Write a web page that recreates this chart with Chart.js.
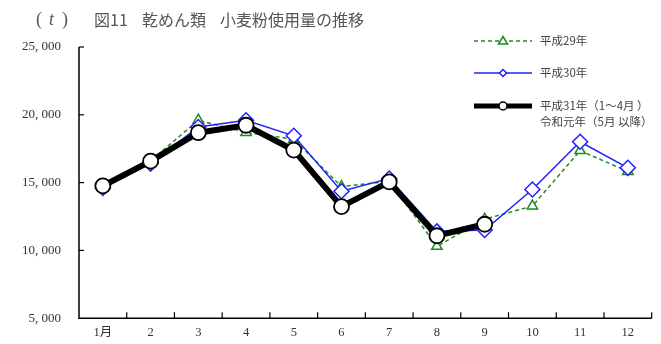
<!DOCTYPE html>
<html><head><meta charset="utf-8">
<script src="https://cdn.jsdelivr.net/npm/chart.js@4/dist/chart.umd.min.js"></script>
<style>html,body{margin:0;padding:0;background:#fff}#wrap{width:661px;height:344px;position:relative}</style>
</head><body><div id="wrap"><canvas id="c" width="661" height="344"></canvas></div>
<script>
const months = ['1月','2','3','4','5','6','7','8','9','10','11','12'];
const h29 = [14700,16600,19600,18700,18200,14700,15100,10300,12300,13270,17360,15820];
const h30 = [14600,16400,19100,19600,18450,14360,15300,11400,11500,14490,18010,16090];
const h31 = [14760,16580,18680,19230,17400,13230,15050,11080,11930,null,null,null];
const yTicks = [5000,10000,15000,20000,25000];
const seriesNames = ['平成29年','平成30年','平成31年（1～4月 ）','令和元年（5月 以降）'];

const FONT = '"Liberation Serif","Noto Sans CJK JP",serif';
const JFONT = '"Noto Sans CJK JP","Liberation Serif",serif';

const decor = {
  id:'decor',
  afterDraw(chart){
    const ctx = chart.ctx, x = chart.scales.x, y = chart.scales.y;
    const ca = chart.chartArea;
    ctx.save();
    ctx.strokeStyle = '#000'; ctx.lineWidth = 1.5;
    ctx.beginPath();
    ctx.moveTo(ca.left, ca.top); ctx.lineTo(ca.left, ca.bottom); ctx.lineTo(ca.right, ca.bottom);
    ctx.stroke();
    ctx.lineWidth = 1.2;
    yTicks.forEach(v=>{
      if (v===5000) return;
      const py = y.getPixelForValue(v);
      ctx.beginPath(); ctx.moveTo(ca.left, py); ctx.lineTo(ca.left+5, py); ctx.stroke();
    });
    const step = x.getPixelForValue(1)-x.getPixelForValue(0);
    for (let i=0;i<months.length;i++){
      const px = x.getPixelForValue(i) + step/2;
      ctx.beginPath(); ctx.moveTo(px, ca.bottom); ctx.lineTo(px, ca.bottom-6); ctx.stroke();
    }
    // title
    ctx.fillStyle = '#555'; ctx.textBaseline = 'middle';
    ctx.font = '18px ' + FONT;
    ctx.fillText('(', 36, 20);
    ctx.font = 'italic 18px ' + FONT;
    ctx.fillText('t', 49, 20);
    ctx.font = '18px ' + FONT;
    ctx.fillText(')', 62, 20);
    ctx.font = '16px ' + JFONT;
    ctx.fillText('図11', 94, 20);
    ctx.fillText('乾めん類', 142, 20);
    ctx.fillText('小麦粉使用量の推移', 220, 20);
    // legend
    const lx0 = 474, lx1 = 532, mx = 503, tx = 540;
    ctx.font = '11.5px ' + JFONT; ctx.fillStyle = '#444';
    ctx.strokeStyle = '#1f8a1f'; ctx.lineWidth = 1.5; ctx.setLineDash([4,3]);
    ctx.beginPath(); ctx.moveTo(lx0,41); ctx.lineTo(lx1,41); ctx.stroke();
    ctx.setLineDash([]);
    ctx.fillStyle='#fff'; ctx.beginPath(); ctx.moveTo(mx,36.5); ctx.lineTo(mx+4.5,44); ctx.lineTo(mx-4.5,44); ctx.closePath(); ctx.fill(); ctx.stroke();
    ctx.fillStyle = '#444'; ctx.fillText(seriesNames[0], tx, 41);
    ctx.strokeStyle = '#2020ff'; ctx.lineWidth = 1.5;
    ctx.beginPath(); ctx.moveTo(lx0,73); ctx.lineTo(lx1,73); ctx.stroke();
    ctx.fillStyle='#fff'; ctx.beginPath(); ctx.moveTo(mx,69.5); ctx.lineTo(mx+3.5,73); ctx.lineTo(mx,76.5); ctx.lineTo(mx-3.5,73); ctx.closePath(); ctx.fill(); ctx.stroke();
    ctx.fillStyle = '#444'; ctx.fillText(seriesNames[1], tx, 73);
    ctx.strokeStyle = '#000'; ctx.lineWidth = 5;
    ctx.beginPath(); ctx.moveTo(lx0,106); ctx.lineTo(lx1,106); ctx.stroke();
    ctx.lineWidth = 1.5; ctx.fillStyle='#fff';
    ctx.beginPath(); ctx.arc(mx,106,4,0,Math.PI*2); ctx.fill(); ctx.stroke();
    ctx.fillStyle = '#444'; ctx.fillText(seriesNames[2], tx, 106);
    ctx.fillText(seriesNames[3], tx, 122);
    ctx.restore();
  }
};

new Chart(document.getElementById('c'), {
  type:'line',
  data:{
    labels: months,
    datasets:[
      {label:seriesNames[2], data:h31, order:0, borderColor:'#000', borderWidth:6, pointStyle:'circle', pointRadius:7.5, pointBorderWidth:1.8, pointBackgroundColor:'#fff', pointBorderColor:'#000', spanGaps:false},
      {label:seriesNames[1], data:h30, order:1, borderColor:'#2020ff', borderWidth:1.5, pointStyle:'rectRot', pointRadius:7.5, pointBorderWidth:1.5, pointBackgroundColor:'#fff', pointBorderColor:'#2020ff'},
      {label:seriesNames[0], data:h29, order:2, borderColor:'#1f8a1f', borderWidth:1.5, borderDash:[4,3], pointStyle:'triangle', pointRadius:6, pointBorderWidth:1.5, pointBackgroundColor:'#fff', pointBorderColor:'#1f8a1f'}
    ]
  },
  options:{
    responsive:false, animation:false,
    layout:{padding:{left:0,right:4,top:47,bottom:0}},
    plugins:{legend:{display:false}, tooltip:{enabled:false}},
    elements:{line:{tension:0}},
    scales:{
      x:{
        offset:true,
        grid:{display:false, drawTicks:false},
        border:{display:false},
        ticks:{padding:7, color:'#333', font:{family:FONT, size:12.5}, maxRotation:0, autoSkip:false},
        afterFit(s){ s.height = 23; }
      },
      y:{
        min:5000, max:25000,
        afterBuildTicks(s){ s.ticks = yTicks.map(v=>({value:v})); },
        grid:{display:false, drawTicks:false},
        border:{display:false},
        ticks:{padding:18, color:'#333', font:{family:FONT, size:13}, callback:v=>v.toLocaleString('en-US').replace(',', ', ')},
        afterFit(s){ s.width = 79; }
      }
    }
  },
  plugins:[decor]
});
</script></body></html>
